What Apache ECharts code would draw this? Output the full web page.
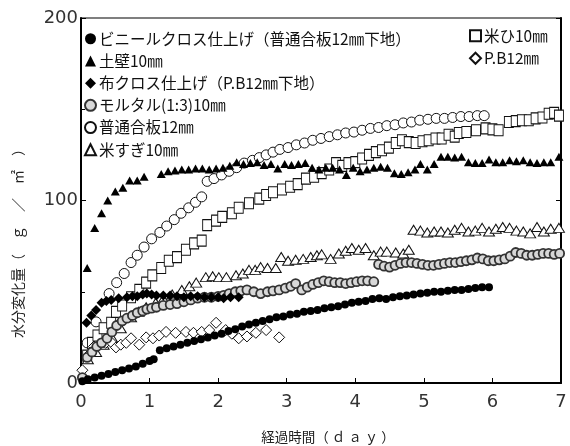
<!DOCTYPE html>
<html>
<head>
<meta charset="utf-8">
<script src="https://cdn.jsdelivr.net/npm/echarts@6/dist/echarts.min.js"></script>
<style>html,body{margin:0;padding:0;background:#fff}#c{width:570px;height:446px}</style>
</head>
<body>
<div id="c"></div>
<script>
// ---- data (x: day, y: g/m2) ----
var seriesNames = ['ビニールクロス仕上げ（普通合板12㎜下地）','土壁10㎜','布クロス仕上げ（P.B12㎜下地）','モルタル(1:3)10㎜','普通合板12㎜','米すぎ10㎜','米ひ10㎜','P.B12㎜'];

var vinylCloth = [[0.02,1],[0.1,2],[0.2,3],[0.3,4],[0.4,5],[0.5,6],[0.6,7],[0.7,8],[0.8,9],[0.9,10.5],[1.0,12],[1.06,13],
[1.15,18],[1.25,19],[1.35,20],[1.45,21],[1.55,22],[1.65,23],[1.75,24],[1.85,25],[1.95,26],[2.05,27],[2.15,28.5],[2.25,29.5],[2.35,31],[2.45,32],[2.55,33],[2.65,34],[2.75,35],[2.85,36],[2.95,36.5],[3.05,37.5],[3.15,38],[3.25,39],[3.35,39.5],[3.45,40],[3.55,41],[3.65,41.5],[3.75,42],[3.85,43],[3.95,44],[4.05,44.5],[4.15,45],[4.25,46],[4.35,46.5],[4.45,46],[4.55,47],[4.65,47.5],[4.75,48],[4.85,48.5],[4.95,49],[5.05,49.5],[5.15,50],[5.25,50],[5.35,50.5],[5.45,51],[5.55,51],[5.65,51.5],[5.75,52],[5.85,52.5],[5.95,52.5]];

var earthWall = [[0.09,63],[0.2,85],[0.3,93],[0.39,100],[0.5,105],[0.61,107],[0.71,111],[0.82,111],[0.92,113],[1.17,114.5],[1.27,116],[1.37,116.5],[1.47,117],[1.57,117],[1.67,117.5],[1.77,117.5],[1.87,117],[1.97,117.5],[2.07,118],[2.17,119],[2.27,121],[2.37,120],[2.47,120.5],[2.57,121],[2.67,119.5],[2.77,120],[2.87,117.5],[2.97,120],[3.07,119.5],[3.17,120],[3.27,120.5],[3.37,118],[3.47,117],[3.57,118],[3.67,118],[3.77,117],[3.87,114],[3.97,118],[4.07,116],[4.17,117],[4.27,118],[4.37,118.5],[4.47,118],[4.57,115],[4.67,114.5],[4.77,115.5],[4.87,117],[4.95,120],[5.05,117],[5.15,120],[5.25,124],[5.35,124],[5.45,123.5],[5.55,124],[5.65,121],[5.75,120.5],[5.85,120.5],[5.95,122.5],[6.05,121],[6.15,121],[6.25,122],[6.35,121.5],[6.45,122],[6.55,121],[6.65,120.5],[6.75,121],[6.85,121],[6.97,124]];

var clothPB = [[0.08,33],[0.15,37],[0.22,40],[0.3,44],[0.37,45],[0.44,45.5],[0.55,46.5],[0.67,47],[0.75,47.5],[0.82,47.5],[0.9,48.5],[0.96,49],[1.03,48.5],[1.1,48],[1.2,48],[1.3,48],[1.4,47.5],[1.5,47],[1.6,47.5],[1.7,47.5],[1.8,47],[1.9,47],[2.0,47],[2.08,46.5],[2.18,47],[2.3,47]];

var mortar = [[0.02,3],[0.09,14],[0.16,17],[0.23,20],[0.3,22],[0.38,24.5],[0.45,28],[0.52,31.5],[0.6,34],[0.67,35.5],[0.75,37],[0.82,38.5],[0.9,39.5],[0.96,40.5],[1.03,41],[1.1,41.5],[1.2,42.5],[1.3,43],[1.4,43.5],[1.5,44.5],[1.6,45.5],[1.7,46.5],[1.8,47],[1.9,47],[2.0,47.5],[2.08,48],[2.16,49],[2.25,50],[2.33,50.5],[2.42,51],[2.52,50],[2.62,49],[2.72,50],[2.8,50.5],[2.89,51],[2.98,52],[3.06,53],[3.13,54.5],[3.22,51],[3.3,52.5],[3.38,54],[3.46,55],[3.54,56],[3.62,55.5],[3.7,55],[3.78,55],[3.86,54.5],[3.94,55],[4.02,55.5],[4.1,56],[4.18,56],[4.27,55.5],
[4.34,65],[4.42,64],[4.5,63.5],[4.58,64.5],[4.66,65.5],[4.74,66],[4.82,66],[4.9,65.5],[4.98,65],[5.06,64.5],[5.14,64.5],[5.22,65],[5.3,65.5],[5.38,66],[5.46,66],[5.54,66.5],[5.62,67],[5.7,67.5],[5.78,68.5],[5.86,68],[5.94,67],[6.02,67],[6.1,67.5],[6.18,68],[6.26,69.5],[6.34,71.5],[6.42,71],[6.5,70],[6.58,70],[6.66,70.5],[6.74,71],[6.82,71],[6.9,70.5],[6.98,71]];

var plywood = [[0.09,22],[0.22,33.5],[0.41,49],[0.52,55],[0.63,60],[0.73,66],[0.82,70],[0.92,74.5],[1.03,79],[1.15,82.5],[1.25,86],[1.36,89.5],[1.46,93],[1.57,96],[1.67,99],[1.76,102],[1.84,110.5],[1.94,112],[2.05,114],[2.16,116],[2.27,118],[2.38,120.5],[2.5,122],[2.6,123.5],[2.7,125],[2.8,126.5],[2.9,128],[3.02,129],[3.14,130.5],[3.26,131.5],[3.38,133],[3.5,134],[3.62,135],[3.74,136],[3.86,137],[3.98,137.5],[4.1,138.5],[4.22,139.5],[4.34,140],[4.46,141],[4.58,141.5],[4.7,142.5],[4.82,143],[4.94,144],[5.06,144.5],[5.18,145],[5.3,145],[5.42,145.5],[5.54,146],[5.66,146],[5.78,146.5],[5.88,146.5]];

var sugi = [[0.1,13],[0.22,17],[0.33,21],[0.45,25],[0.58,30],[0.73,36],[0.84,39],[0.95,41.5],[1.09,44],[1.2,46],[1.33,48.5],[1.47,51],[1.58,53],[1.68,55],[1.82,58],[1.92,58.5],[2.01,58],[2.12,58],[2.26,59],[2.36,60],[2.45,62],[2.54,62],[2.62,63.5],[2.72,63],[2.84,63],[2.92,69],[3.02,67],[3.13,67.5],[3.24,68],[3.35,69],[3.44,70],[3.51,70.5],[3.64,68],[3.76,71],[3.86,72.5],[3.95,74],[4.05,73],[4.15,74],[4.27,70],[4.37,72],[4.46,72],[4.59,71.5],[4.7,71],[4.78,73],
[4.85,84],[4.95,83.5],[5.05,82.5],[5.15,83],[5.25,83],[5.35,82.5],[5.45,84],[5.55,85],[5.65,83],[5.75,83.5],[5.85,85],[5.95,83],[6.05,84.5],[6.15,85.5],[6.25,85],[6.35,83.5],[6.45,83],[6.55,82],[6.65,85.5],[6.75,83],[6.85,84.5],[6.97,85]];

var beihi = [[0.09,15],[0.16,22],[0.24,26],[0.33,30],[0.44,33],[0.51,39],[0.6,42.5],[0.73,47],[0.85,51],[0.95,55],[1.04,59],[1.17,63],[1.28,67],[1.4,69],[1.53,73],[1.65,76.5],[1.76,78],[1.84,86.5],[1.97,89],[2.06,91],[2.2,93],[2.3,96],[2.45,98.5],[2.6,101],[2.7,103],[2.8,104.5],[2.93,106],[3.05,107.5],[3.16,109],[3.28,112],[3.4,113],[3.51,115],[3.62,117],[3.72,120.5],[3.81,119],[3.9,120.5],[4.0,121],[4.1,123],[4.2,125],[4.3,126.5],[4.39,127.5],[4.49,129],[4.59,131.5],[4.68,133],[4.78,132],[4.88,131.5],[4.98,132.5],[5.07,133],[5.17,134],[5.26,134],[5.36,136],[5.45,135],[5.51,137],[5.62,137.5],[5.76,138.5],[5.9,139.5],[6.0,139],[6.09,138.5],[6.24,143],[6.34,143.5],[6.43,144],[6.53,144],[6.63,145],[6.73,145.5],[6.82,147.5],[6.9,148],[6.97,146.5]];

var pb12 = [[0.02,7],[0.1,15],[0.19,20],[0.26,21],[0.36,22],[0.45,22],[0.51,19.5],[0.58,21],[0.66,22],[0.73,24.5],[0.85,21],[0.95,25],[1.05,24.5],[1.14,26],[1.24,28],[1.38,27.5],[1.53,28],[1.64,27.5],[1.76,28],[1.87,29],[1.97,33],[2.11,29],[2.2,27],[2.3,24.5],[2.42,25.5],[2.55,27.5],[2.7,29],[2.89,25]];

var xTickLabels = ['0','1','2','3','4','5','6','7'];
var yTickLabels = ['0','100','200'];

// ---- chart ----
var chart = echarts.init(document.getElementById('c'), null, {renderer:'canvas'});
var fontJP = '"Noto Sans CJK JP", sans-serif';
function mk(name, data, symbol, size, fill, border, bw){
  return {type:'scatter', name:name, data:data, symbol:symbol, symbolSize:size,
    itemStyle:{color:fill, borderColor:border, borderWidth:bw, opacity:1},
    emphasis:{disabled:true}, z:2};
}
var series = [
  mk(seriesNames[4], plywood, 'circle', 10, '#fff', '#111', 1),
  mk(seriesNames[6], beihi, 'rect', [9,11], '#fff', '#111', 1),
  mk(seriesNames[5], sugi, 'triangle', [11,9], '#fff', '#111', 1),
  mk(seriesNames[7], pb12, 'diamond', 11, '#fff', '#111', 1),
  mk(seriesNames[1], earthWall, 'triangle', [9,8], '#000', '#000', 0),
  mk(seriesNames[3], mortar, 'circle', 9, '#d8d8d8', '#333', 1.8),
  mk(seriesNames[2], clothPB, 'diamond', 10, '#000', '#000', 0),
  mk(seriesNames[0], vinylCloth, 'circle', 8, '#000', '#000', 0)
];
var legendText = {fontFamily:fontJP, fontSize:15.5, lineHeight:14, color:'#111', padding:[0,0,0,-2]};
var option = {
  animation:false,
  backgroundColor:'#fff',
  grid:{left:81, right:9, top:18, bottom:63, show:true, borderColor:'#000', borderWidth:1.2},
  xAxis:{type:'value', min:0, max:7, interval:1,
    axisLine:{show:true, onZero:false, lineStyle:{color:'#000', width:2}},
    axisTick:{show:true, inside:true, length:5, lineStyle:{color:'#000'}},
    splitLine:{show:false},
    axisLabel:{margin:10, color:'#333', fontSize:18, fontFamily:'"DejaVu Sans", sans-serif',
      formatter:function(v){return xTickLabels[Math.round(v)];}}},
  yAxis:[{type:'value', min:0, max:200, interval:100,
    axisLine:{show:true, lineStyle:{color:'#000', width:2}},
    axisTick:{show:true, inside:true, length:5, lineStyle:{color:'#000'}},
    minorTick:{show:true, splitNumber:2, length:4, lineStyle:{color:'#000'}},
    splitLine:{show:false},
    axisLabel:{margin:3, color:'#333', fontSize:18, fontFamily:'"DejaVu Sans", sans-serif',
      formatter:function(v){return yTickLabels[Math.round(v/100)];}}},
   {type:'value', min:0, max:200, interval:100, position:'right',
    axisLine:{show:true, lineStyle:{color:'#000', width:2}},
    axisTick:{show:true, inside:true, length:5, lineStyle:{color:'#000'}},
    axisLabel:{show:false}, splitLine:{show:false}}],
  legend:[{orient:'vertical', left:84, top:31, itemWidth:11, itemHeight:11, itemGap:6.7,
      data:[seriesNames[0],seriesNames[1],seriesNames[2],seriesNames[3],seriesNames[4],seriesNames[5]],
      textStyle:legendText, selectedMode:false, padding:0},
    {orient:'vertical', left:469, top:28, itemWidth:11, itemHeight:11, itemGap:7,
      data:[seriesNames[6],seriesNames[7]],
      textStyle:legendText, selectedMode:false, padding:0}],
  graphic:[
    {type:'text', x:18, y:240, rotation:Math.PI/2,
      style:{text:'水分変化量（　ｇ　／　㎡　）', font:'14px "Noto Sans CJK JP"', fill:'#222', textAlign:'center', textVerticalAlign:'middle'}},
    {type:'text', x:328, y:437,
      style:{text:'経過時間（ ｄ ａ ｙ ）', font:'13.5px "Noto Sans CJK JP"', fill:'#222', textAlign:'center', textVerticalAlign:'middle'}}
  ],
  series:series
};
chart.setOption(option);
</script>
</body>
</html>
